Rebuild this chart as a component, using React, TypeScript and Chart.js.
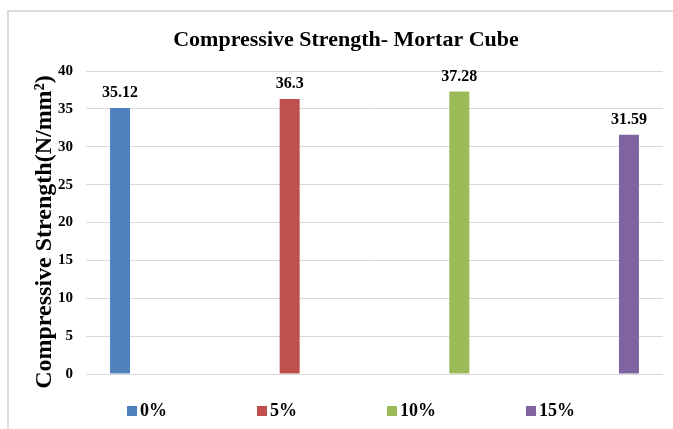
import React, { useEffect, useRef } from 'react';
import { Chart, registerables } from 'chart.js';

Chart.register(...registerables);

// ---- data ----
const categories: string[] = ['0%', '5%', '10%', '15%'];
const seriesLabels: string[] = ['0%', '5%', '10%', '15%'];
const seriesValues: number[] = [35.12, 36.3, 37.28, 31.59];
const seriesColors: string[] = ['#4F81BD', '#C0504D', '#9BBB59', '#8064A2'];
const yMin = 0;
const yMax = 40;
const yStep = 5;
const chartTitle = 'Compressive Strength- Mortar Cube';
const yAxisTitle = 'Compressive Strength(N/mm²)';

const FONT = '"Liberation Serif", "Times New Roman", serif';

const framePlugin = {
  id: 'frame',
  beforeDraw(chart: any) {
    const ctx = chart.ctx;
    ctx.save();
    ctx.fillStyle = '#ffffff';
    ctx.fillRect(0, 0, chart.width, chart.height);
    ctx.fillStyle = '#dcdcdc';
    ctx.fillRect(7, 10, chart.width - 7, 2);
    ctx.fillRect(7, 10, 2, chart.height - 10);
    ctx.restore();
  },
};

const titlesPlugin = {
  id: 'titles',
  afterDraw(chart: any) {
    const ctx = chart.ctx;
    ctx.save();
    ctx.fillStyle = '#000000';
    ctx.textAlign = 'center';
    ctx.textBaseline = 'alphabetic';
    ctx.font = `bold 22px ${FONT}`;
    ctx.fillText(chartTitle, 346, 46);
    ctx.translate(51, 232);
    ctx.rotate(-Math.PI / 2);
    ctx.font = `bold 24px ${FONT}`;
    ctx.fillText(yAxisTitle, 0, 0);
    ctx.restore();
  },
};

const dataLabelPlugin = {
  id: 'dataLabels',
  afterDatasetsDraw(chart: any) {
    const ctx = chart.ctx;
    ctx.save();
    ctx.font = `bold 16px ${FONT}`;
    ctx.fillStyle = '#000000';
    ctx.textAlign = 'center';
    ctx.textBaseline = 'alphabetic';
    chart.data.datasets.forEach((ds: any, i: number) => {
      const meta = chart.getDatasetMeta(i);
      meta.data.forEach((el: any, j: number) => {
        const v = ds.data[j];
        if (v === null || v === undefined) return;
        ctx.fillText(String(v), el.x, el.y - 11);
      });
    });
    ctx.restore();
  },
};

const legendPlugin = {
  id: 'bottomLegend',
  afterDraw(chart: any) {
    const ctx = chart.ctx;
    ctx.save();
    ctx.font = `bold 18px ${FONT}`;
    ctx.fillStyle = '#000000';
    ctx.textAlign = 'left';
    ctx.textBaseline = 'middle';
    const box = 10;
    const gap = 3;
    const pad = 90;
    const items = chart.data.datasets.map((ds: any) => ({ text: ds.label, color: ds.backgroundColor }));
    const widths = items.map((it: any) => box + gap + ctx.measureText(it.text).width);
    const total = widths.reduce((a: number, b: number) => a + b, 0) + pad * (items.length - 1);
    let x = 351 - total / 2;
    const y = 411;
    items.forEach((it: any, i: number) => {
      ctx.fillStyle = it.color;
      ctx.fillRect(x, y - box / 2, box, box);
      ctx.fillStyle = '#000000';
      ctx.fillText(it.text, x + box + gap, y);
      x += widths[i] + pad;
    });
    ctx.restore();
  },
};

export default function App() {
  const canvasRef = useRef<HTMLCanvasElement | null>(null);

  useEffect(() => {
    if (!canvasRef.current) return;
    const datasets = seriesLabels.map((label, i) => ({
      label,
      data: categories.map((_, j) => (j === i ? seriesValues[i] : null)),
      backgroundColor: seriesColors[i],
      borderWidth: 0,
      categoryPercentage: 0.704,
      barPercentage: 0.787,
    }));

    const chart = new Chart(canvasRef.current, {
      type: 'bar',
      data: { labels: categories, datasets },
      plugins: [framePlugin, dataLabelPlugin, titlesPlugin, legendPlugin],
      options: {
        responsive: false,
        animation: false,
        devicePixelRatio: 1,
        layout: { padding: { top: 71, right: 10, bottom: 55, left: 0 } },
        plugins: {
          legend: { display: false },
          tooltip: { enabled: false },
          title: { display: false },
        },
        scales: {
          x: {
            display: false,
            grid: { display: false },
          },
          y: {
            min: yMin,
            max: yMax,
            ticks: {
              stepSize: yStep,
              color: '#000000',
              padding: 13,
              font: { family: FONT, size: 15, weight: 'bold' },
            },
            grid: { color: '#d9d9d9', lineWidth: 1, drawTicks: false },
            border: { display: false },
            title: { display: false },
            afterFit: (scale: any) => {
              scale.width = 86;
            },
          },
        },
      },
    } as any);

    return () => chart.destroy();
  }, []);

  return (
    <div style={{ position: 'fixed', left: 0, top: 0, width: 673, height: 429 }}>
      <canvas ref={canvasRef} width={673} height={429} style={{ display: 'block' }} />
    </div>
  );
}
